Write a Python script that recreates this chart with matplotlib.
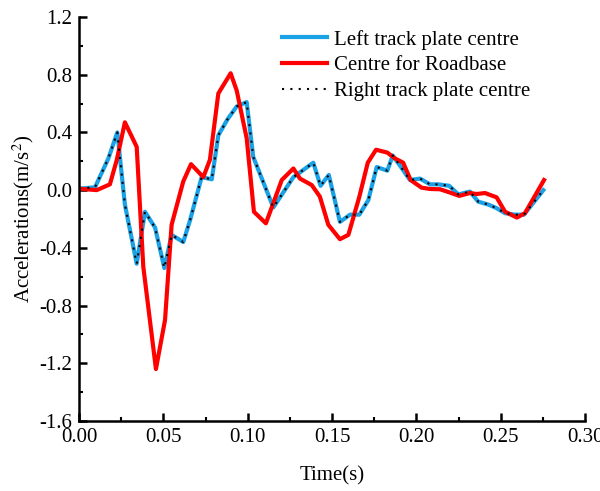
import matplotlib
matplotlib.use("Agg")
import matplotlib.pyplot as plt
from matplotlib.ticker import MultipleLocator, FormatStrFormatter

plt.rcParams['font.family'] = ['Liberation Serif', 'DejaVu Serif']
plt.rcParams['mathtext.fontset'] = 'stix'
plt.rcParams['axes.unicode_minus'] = False

# Left track plate centre
t_left = [0.0, 0.0095, 0.0174, 0.0227, 0.0272, 0.0342, 0.0391, 0.0451, 0.0506,
          0.0549, 0.0618, 0.0658, 0.0727, 0.0787, 0.0826, 0.0880, 0.0935, 0.0994,
          0.1033, 0.1152, 0.1271, 0.1389, 0.1432, 0.1481, 0.1547, 0.1607, 0.1662,
          0.1715, 0.1765, 0.1828, 0.1860, 0.1903, 0.1962, 0.2022, 0.2081, 0.2130,
          0.2195, 0.2249, 0.2318, 0.2367, 0.2427, 0.2476, 0.2526, 0.2585, 0.2638,
          0.2753]
a_left = [0.01, 0.02, 0.22, 0.40, -0.10, -0.51, -0.15, -0.26, -0.54,
          -0.31, -0.36, -0.21, 0.09, 0.075, 0.38, 0.49, 0.58, 0.61,
          0.23, -0.12, 0.09, 0.19, 0.03, 0.105, -0.22, -0.17, -0.17,
          -0.07, 0.16, 0.135, 0.24, 0.17, 0.07, 0.08, 0.04, 0.04,
          0.03, -0.03, -0.01, -0.08, -0.10, -0.125, -0.16, -0.17, -0.17,
          0.0]

# Centre for Roadbase
t_road = [0.0, 0.0105, 0.0183, 0.0224, 0.0272, 0.0342, 0.0381, 0.0456, 0.0510,
          0.0549, 0.0618, 0.0664, 0.0737, 0.0776, 0.0826, 0.0899, 0.0935, 0.0994,
          0.1037, 0.1108, 0.1202, 0.1271, 0.1310, 0.1380, 0.1428, 0.1478, 0.1547,
          0.1597, 0.1662, 0.1712, 0.1761, 0.1828, 0.1873, 0.1922, 0.1966, 0.2031,
          0.2081, 0.2140, 0.2195, 0.2254, 0.2318, 0.2358, 0.2407, 0.2476, 0.2526,
          0.2596, 0.2644, 0.2757]
a_road = [0.01, 0.0, 0.04, 0.21, 0.47, 0.30, -0.53, -1.24, -0.90,
          -0.24, 0.06, 0.18, 0.09, 0.21, 0.67, 0.81, 0.69, 0.36,
          -0.15, -0.23, 0.07, 0.15, 0.08, 0.035, -0.045, -0.24, -0.34,
          -0.31, -0.046, 0.19, 0.28, 0.26, 0.22, 0.19, 0.07, 0.017,
          0.008, 0.006, -0.015, -0.04, -0.02, -0.027, -0.02, -0.05, -0.15,
          -0.19, -0.16, 0.07]

# Right track plate centre (overlaps the left one)
t_right = list(t_left)
a_right = list(a_left)

fig = plt.figure(figsize=(6, 4.91), dpi=100)
ax = fig.add_axes([0.1317, 0.1426, 0.8433, 0.8228])

ax.plot(t_left, a_left, color='#1AA1E6', lw=3, label='Left track plate centre')
ax.plot(t_road, a_road, color='#FF0000', lw=3, label='Centre for Roadbase')
ax.plot(t_right, a_right, color='black', lw=1.5, ls=(0, (1, 3)),
        label='Right track plate centre')

ax.set_xlim(0, 0.30)
ax.set_ylim(-1.6, 1.2)
ax.xaxis.set_major_locator(MultipleLocator(0.05))
ax.xaxis.set_minor_locator(MultipleLocator(0.025))
ax.yaxis.set_major_locator(MultipleLocator(0.4))
ax.yaxis.set_minor_locator(MultipleLocator(0.2))
ax.xaxis.set_major_formatter(FormatStrFormatter('%.2f'))
ax.yaxis.set_major_formatter(FormatStrFormatter('%.1f'))

for s in ['top', 'right']:
    ax.spines[s].set_visible(False)
for s in ['left', 'bottom']:
    ax.spines[s].set_linewidth(1.8)

ax.tick_params(which='major', direction='in', length=6, width=1.8,
               labelsize=15, pad=5)
ax.tick_params(which='minor', direction='in', length=3, width=1.5)

ax.set_xlabel('Time(s)', fontsize=15, labelpad=14)
ax.set_ylabel('Accelerations(m/s$^2$)', fontsize=15, labelpad=2)

ax.legend(loc='upper left', bbox_to_anchor=(0.365, 1.015), frameon=False,
          fontsize=15, handlelength=2.16, handletextpad=0.3, labelspacing=0.3)

fig.savefig('out.png', dpi=100)
